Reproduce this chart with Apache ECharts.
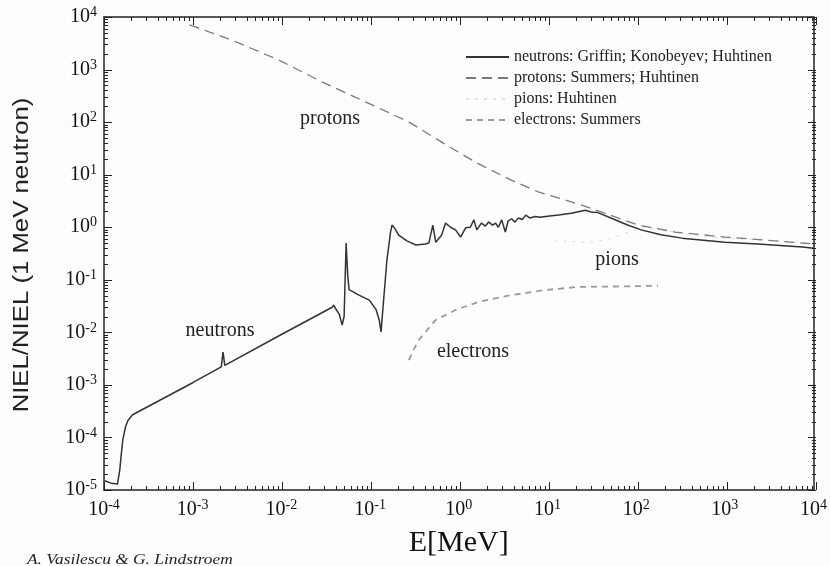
<!DOCTYPE html>
<html><head><meta charset="utf-8">
<script src="https://cdn.jsdelivr.net/npm/echarts@6/dist/echarts.min.js"></script>
<style>html,body{margin:0;padding:0;background:#fdfdfd}#c{width:830px;height:566px}</style>
</head><body><div id="c"></div>
<script>
// ---- data ----
const neutronsE = [1.02e-4,1.2e-4,1.42e-4,1.51e-4,1.56e-4,1.63e-4,1.75e-4,1.86e-4,2.1e-4,1e-3,2.1e-3,2.2e-3,2.3e-3,1e-2,0.0374,0.039,0.040,0.045,0.0484,0.051,0.0537,0.056,0.058,0.075,0.098,0.117,0.127,0.133,0.14,0.155,0.17,0.177,0.19,0.21,0.26,0.33,0.42,0.46,0.51,0.55,0.64,0.71,0.81,0.92,1.05,1.2,1.35,1.48,1.6,1.8,2.0,2.17,2.4,2.6,2.8,3.05,3.35,3.6,3.95,4.3,4.7,5.2,5.7,6.3,7.3,8.3,9.5,13.3,18.6,26.7,31,37,52,80,114,190,330,1000,2340,7500,10000];
const neutronsV = [1.5e-5,1.35e-5,1.3e-5,2.5e-5,4.5e-5,9e-5,1.6e-4,2.1e-4,2.7e-4,1.1e-3,2.2e-3,4.2e-3,2.35e-3,9.1e-3,0.030,0.033,0.030,0.022,0.0138,0.02,0.50,0.12,0.065,0.051,0.041,0.027,0.017,0.0102,0.03,0.24,0.8,1.1,0.95,0.71,0.55,0.46,0.48,0.50,1.1,0.52,0.7,1.2,1.0,0.89,0.65,0.98,1.0,1.38,0.89,1.2,1.05,1.26,1.1,1.2,1.0,1.38,0.81,1.3,1.45,1.25,1.5,1.4,1.7,1.5,1.6,1.55,1.6,1.7,1.85,2.1,1.95,1.9,1.5,1.1,0.89,0.72,0.62,0.52,0.48,0.42,0.40];
const protonsE = [9.2e-4,2.8e-3,9.5e-3,0.029,0.09,0.275,0.78,1.68,3.9,7.9,15.8,31,105,275,1000,7500,10000];
const protonsV = [7100,3600,1500,575,240,100,34,16,7.9,4.7,3.3,2.3,1.1,0.81,0.65,0.50,0.48];
const pionsE = [12,20,31,50,80,120,200,400,1000,10000];
const pionsV = [0.55,0.53,0.52,0.6,0.8,1.0,0.9,0.72,0.62,0.5];
const electronsE = [0.274,0.30,0.355,0.55,0.92,1.68,3.9,9.5,22,76,177];
const electronsV = [2.95e-3,4.2e-3,7.2e-3,0.0172,0.0266,0.038,0.051,0.064,0.073,0.075,0.077];
const xMajor = [1e-4,1e-3,1e-2,1e-1,1,10,100,1000,10000];
const yMajor = [1e-5,1e-4,1e-3,1e-2,1e-1,1,10,100,1000,10000];
const seriesNames = ['neutrons: Griffin; Konobeyev; Huhtinen','protons: Summers; Huhtinen','pions: Huhtinen','electrons: Summers'];

function minorOf(majors){const r=[];for(let i=0;i<majors.length-1;i++){for(let k=2;k<=9;k++)r.push(majors[i]*k);}return r;}
const xMinor = minorOf(xMajor), yMinor = minorOf(yMajor);
const pairs = (a,b)=>a.map((v,i)=>[v,b[i]]);

const serif = 'Liberation Serif, Times New Roman, serif';
const sans = 'Liberation Sans, Arial, sans-serif';
const rich = {b:{fontFamily:serif,fontSize:20,color:'#111'},s:{fontFamily:serif,fontSize:14,color:'#111',verticalAlign:'top',padding:[0,0,9,0]}};
const fmt = v => '{b|10}{s|' + Math.round(Math.log10(v)) + '}';
const lineCol = '#222';

function ax(kind,pos,min,max,withLabel,extra){
  const vals = kind==='x'?xMajor:yMajor;
  return Object.assign({
    type:'log',logBase:10,min:min,max:max,position:pos,gridIndex:0,
    axisLine:{show:true,onZero:false,lineStyle:{color:lineCol,width:1.5}},
    axisTick:{show:false},
    axisLabel:withLabel?{show:true,customValues:vals,formatter:fmt,rich:rich,margin:kind==='x'?8:7}:{show:false},
    splitLine:{show:false},minorTick:{show:false},minorSplitLine:{show:false}
  },extra||{});
}

const gridL=104, gridR=14, gridT=17, gridB=76, W=830, H=566;
const chart = echarts.init(document.getElementById('c'),null,{renderer:'canvas'});
chart.setOption({
  backgroundColor:'#fdfdfd',
  animation:false,
  grid:{left:gridL,right:gridR,top:gridT,bottom:gridB},
  xAxis:[
    ax('x','bottom',1e-4,1e4,true,{name:'E[MeV]',nameLocation:'middle',nameGap:38,nameTextStyle:{fontFamily:serif,fontSize:30,color:'#111'}}),
    ax('x','top',1e-4,1e4,false)
  ],
  yAxis:[
    ax('y','left',1e-5,1e4,true),
    ax('y','right',1e-5,1e4,false)
  ],
  legend:{
    orient:'vertical',left:460,top:44,itemWidth:43,itemHeight:14,itemGap:5,
    itemStyle:{opacity:0},
    textStyle:{fontFamily:serif,fontSize:16,color:'#222'},
    data:seriesNames
  },
  series:[
    {name:seriesNames[0],type:'line',symbol:'none',data:pairs(neutronsE,neutronsV),lineStyle:{color:'#333',width:1.5},itemStyle:{color:'#333'},z:5},
    {name:seriesNames[1],type:'line',symbol:'none',data:pairs(protonsE,protonsV),lineStyle:{color:'#7a7a7a',width:1.3,type:[10,6]},itemStyle:{color:'#7a7a7a'},z:4},
    {name:seriesNames[2],type:'line',symbol:'none',data:pairs(pionsE,pionsV),lineStyle:{color:'#e0e0e0',width:1.2,type:[3,6]},itemStyle:{color:'#e0e0e0'},z:3},
    {name:seriesNames[3],type:'line',symbol:'none',data:pairs(electronsE,electronsV),lineStyle:{color:'#9a9a9a',width:1.8,type:[6,5]},itemStyle:{color:'#9a9a9a'},z:3}
  ]
});

// axis tick marks on all four sides (log mapping of the grid box)
function lin(a,b,lo,hi,v){return a+(b-a)*(Math.log10(v)-Math.log10(lo))/(Math.log10(hi)-Math.log10(lo));}
const X = v => lin(gridL,W-gridR,1e-4,1e4,v);
const Y = v => lin(H-gridB,gridT,1e-5,1e4,v);
const g = [];
const xL = gridL, xR = W-gridR, yB = H-gridB, yT = gridT;
function tick(x1,y1,x2,y2){g.push({type:'line',silent:true,z:100,shape:{x1:x1,y1:y1,x2:x2,y2:y2},style:{stroke:lineCol,lineWidth:1}});}
xMajor.forEach(v=>{const x=Math.round(X(v))+0.5; tick(x,yB,x,yB-8); tick(x,yT,x,yT+8);});
xMinor.forEach(v=>{const x=Math.round(X(v))+0.5; tick(x,yB,x,yB-4); tick(x,yT,x,yT+4);});
yMajor.forEach(v=>{const y=Math.round(Y(v))+0.5; tick(xL,y,xL+8,y); tick(xR,y,xR-8,y);});
yMinor.forEach(v=>{const y=Math.round(Y(v))+0.5; tick(xL,y,xL+4,y); tick(xR,y,xR-4,y);});

function label(text,x,y,font,extra){g.push(Object.assign({type:'text',x:x,y:y,silent:true,style:{text:text,font:font,fill:'#222',align:'center',verticalAlign:'middle'}},extra||{}));}
label('protons',330,119,'20px '+serif);
label('neutrons',220,331,'20px '+serif);
label('electrons',473,352,'20px '+serif);
label('pions',617,260,'20px '+serif);
label('NIEL/NIEL (1 MeV neutron)',22,255,'22px '+sans,{rotation:Math.PI/2,scaleX:1.17});
g.push({type:'text',x:27,y:560,silent:true,scaleX:1.24,style:{text:'A. Vasilescu & G. Lindstroem',font:'italic 14px '+serif,fill:'#222',align:'left',verticalAlign:'middle'}});
chart.setOption({graphic:{elements:g}});
</script></body></html>
